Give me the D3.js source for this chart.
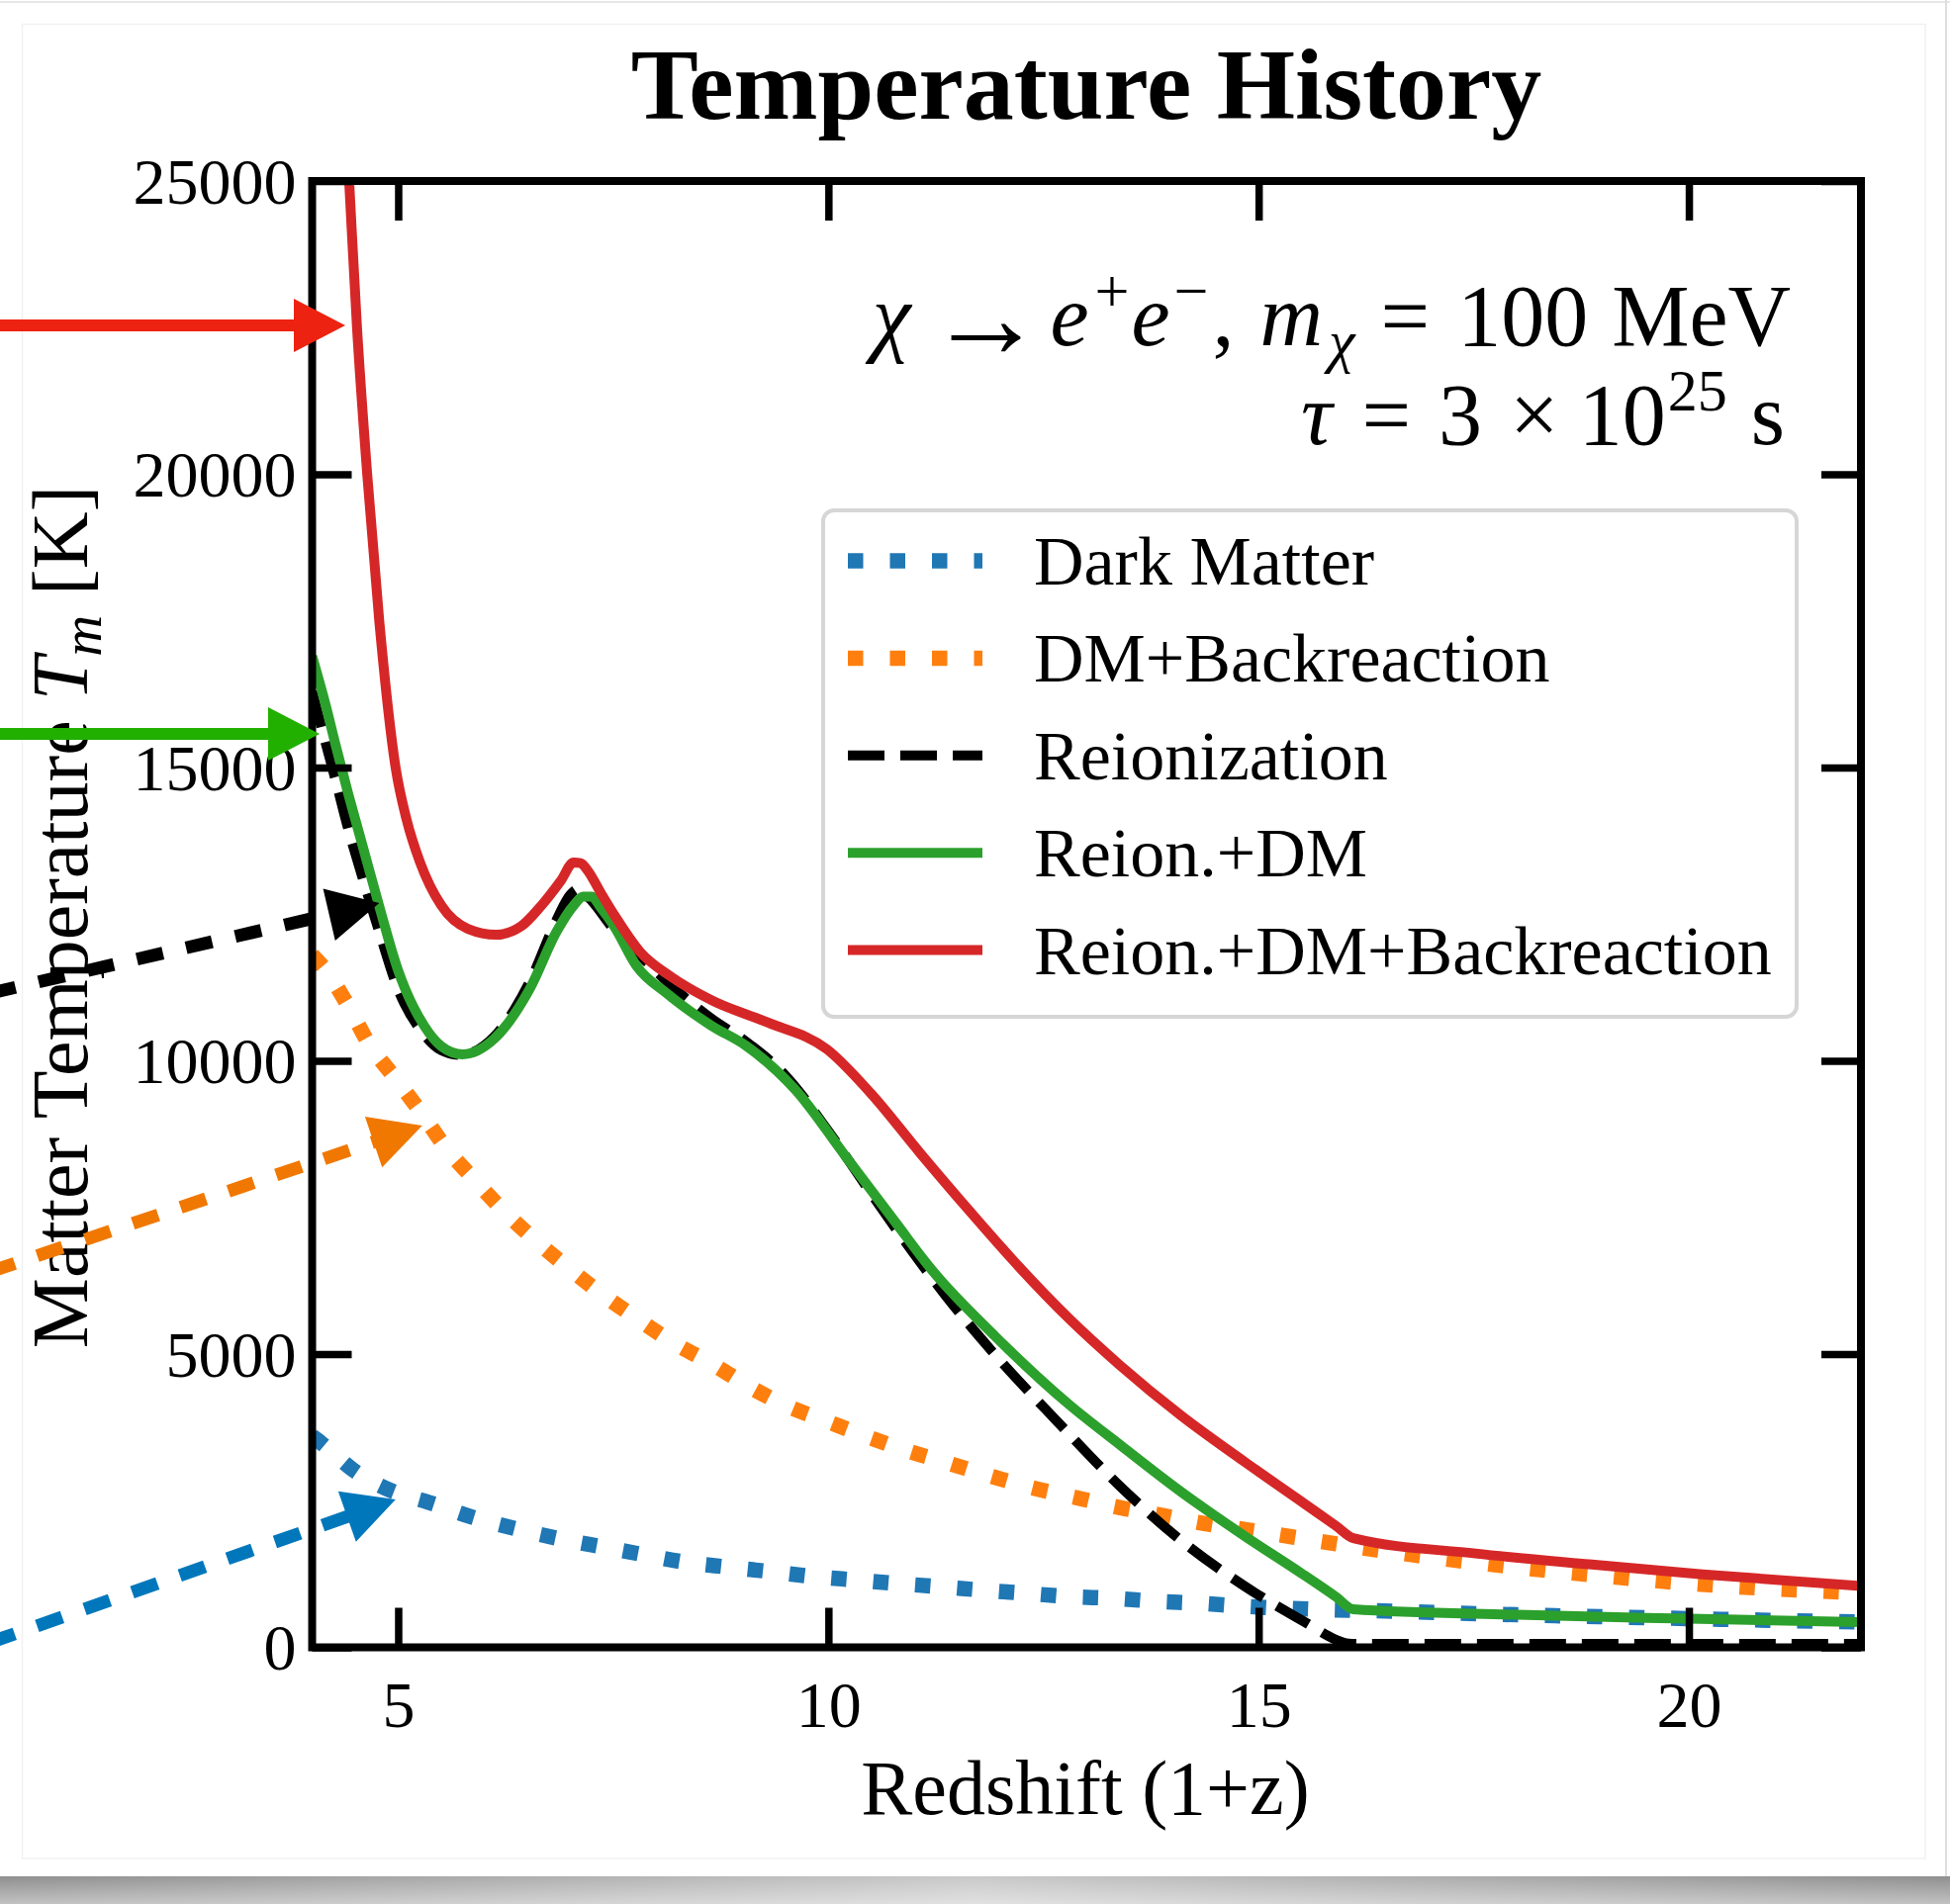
<!DOCTYPE html>
<html><head><meta charset="utf-8">
<script src="https://cdn.jsdelivr.net/npm/d3@7"></script>
<style>body{margin:0;background:#fff}svg{display:block}</style>
</head><body>
<svg id="c" width="1971" height="1925"></svg>
<script>
// ---------------- DATA ----------------
const xDomain = [4, 22];
const yDomain = [0, 25000];
const xTickValues = [5, 10, 15, 20];
const yTickValues = [0, 5000, 10000, 15000, 20000, 25000];

const seriesNames = ["Dark Matter", "DM+Backreaction", "Reionization", "Reion.+DM", "Reion.+DM+Backreaction"];

// Dark Matter (blue dotted)
const zDM = [4.0, 4.1, 4.49, 4.92, 5.36, 5.86, 6.37, 6.88, 7.38, 7.89, 8.32, 8.82, 9.33, 9.84, 10.34, 10.78, 11.28, 11.79, 12.3, 12.8, 13.31, 13.81, 14.32, 14.83, 15.33, 15.84, 16.3, 18.0, 20.0, 22.0];
const tDM = [3600, 3490, 3010, 2670, 2470, 2220, 2020, 1850, 1710, 1570, 1455, 1370, 1290, 1205, 1145, 1090, 1035, 975, 920, 865, 835, 785, 750, 700, 665, 640, 625, 555, 490, 430];

// DM + Backreaction (orange dotted)
const zBack = [4.0, 4.16, 4.42, 4.66, 4.97, 5.26, 5.55, 5.89, 6.23, 6.59, 6.99, 7.38, 7.79, 8.22, 8.64, 9.11, 9.48, 9.98, 10.49, 10.92, 11.43, 11.93, 12.37, 12.87, 13.38, 13.88, 14.39, 14.9, 15.4, 15.9, 16.1, 17.34, 18.84, 20.33, 22.0];
const tBack = [11800, 11540, 10935, 10290, 9695, 9130, 8525, 7965, 7435, 6945, 6455, 6010, 5590, 5175, 4840, 4420, 4140, 3855, 3570, 3350, 3125, 2900, 2720, 2555, 2385, 2250, 2105, 1995, 1880, 1765, 1720, 1475, 1240, 1055, 930];

// Reionization (black dashed)
const zReion = [4.0, 4.16, 4.27, 4.42, 4.58, 4.79, 4.99, 5.3, 5.5, 5.72, 6.12, 6.53, 6.84, 7.0, 7.08, 7.2, 7.5, 7.87, 8.2, 8.64, 9.04, 9.5, 10.0, 10.49, 10.9, 11.36, 11.93, 12.66, 13.38, 14.1, 14.83, 15.55, 15.9, 16.02, 16.15, 18.0, 22.0];
const tReion = [16300, 15400, 14800, 13950, 13150, 12150, 11250, 10450, 10180, 10100, 10420, 11350, 12400, 12830, 12920, 12800, 12250, 11710, 11250, 10720, 10330, 9750, 8800, 7750, 6900, 6000, 5000, 3850, 2760, 1820, 1050, 420, 130, 70, 60, 60, 60];

// Reion. + DM (green solid)
const zReionDM = [4.0, 4.16, 4.27, 4.42, 4.58, 4.79, 4.99, 5.3, 5.5, 5.75, 6.12, 6.53, 6.84, 7.04, 7.15, 7.25, 7.35, 7.51, 7.77, 8.13, 8.64, 9.04, 9.62, 10.2, 10.78, 11.21, 11.94, 12.8, 13.4, 14.1, 14.83, 15.5, 15.9, 16.1, 18.0, 20.0, 22.0];
const tReionDM = [16900, 16050, 15400, 14550, 13700, 12580, 11580, 10600, 10250, 10110, 10380, 11230, 12200, 12650, 12800, 12800, 12620, 12295, 11617, 11140, 10600, 10260, 9500, 8370, 7245, 6420, 5300, 4135, 3440, 2650, 1905, 1260, 860, 650, 555, 488, 430];

// Reion. + DM + Backreaction (red solid)
const zReionBack = [4.0, 4.15, 4.3, 4.43, 4.52, 4.64, 4.78, 4.97, 5.1, 5.25, 5.5, 5.81, 6.14, 6.43, 6.66, 6.89, 7.04, 7.12, 7.2, 7.35, 7.51, 7.81, 8.18, 8.64, 9.3, 9.98, 10.49, 11.07, 11.64, 12.22, 12.8, 13.38, 14.1, 14.83, 15.55, 15.9, 16.1, 17.52, 18.84, 20.16, 22.0];
const tReionBack = [36000, 32000, 28500, 25000, 22540, 20000, 17500, 15000, 14100, 13400, 12650, 12250, 12150, 12295, 12640, 13070, 13380, 13370, 13250, 12875, 12490, 11860, 11425, 11035, 10650, 10200, 9450, 8420, 7440, 6480, 5600, 4820, 3950, 3170, 2430, 2070, 1860, 1600, 1415, 1245, 1045];

// Arrow annotations (data coordinates)
const arrowColors = ["#ee2211", "#22b000", "#000000", "#f07800", "#0077bb"];
const arrowStartZ = [0.25, 0.25, 0.25, 0.25, 0.25];
const arrowStartT = [22540, 15573, 11150, 6400, 80];
const arrowTipZ = [4.385, 4.086, 4.78, 5.28, 4.97];
const arrowTipT = [22540, 15573, 12690, 8895, 2521];
const arrowDashed = [false, false, true, true, true];

// ---------------- LAYOUT ----------------
const FONT = "'Liberation Serif', 'Times New Roman', serif";
const plot = {left: 315.5, right: 1881, top: 183, bottom: 1665.5};
const x = d3.scaleLinear().domain(xDomain).range([plot.left, plot.right]);
const y = d3.scaleLinear().domain(yDomain).range([plot.bottom, plot.top]);

const svg = d3.select("#c");
const defs = svg.append("defs");
defs.append("clipPath").attr("id", "plotclip").append("rect")
  .attr("x", plot.left).attr("y", plot.top)
  .attr("width", plot.right - plot.left).attr("height", plot.bottom - plot.top);
const sg = defs.append("linearGradient").attr("id", "shadowH").attr("x1", 0).attr("x2", 1).attr("y1", 0).attr("y2", 0);
sg.append("stop").attr("offset", "0%").attr("stop-color", "#8f8f8f");
sg.append("stop").attr("offset", "50%").attr("stop-color", "#c9c9c9");
sg.append("stop").attr("offset", "100%").attr("stop-color", "#8f8f8f");
const sv = defs.append("linearGradient").attr("id", "shadowV").attr("x1", 0).attr("x2", 0).attr("y1", 0).attr("y2", 1);
sv.append("stop").attr("offset", "0%").attr("stop-color", "#fff").attr("stop-opacity", 0);
sv.append("stop").attr("offset", "100%").attr("stop-color", "#fff").attr("stop-opacity", 0.45);

// page / card frame
svg.append("rect").attr("x", 0).attr("y", 0).attr("width", 1971).attr("height", 1925).attr("fill", "#fff");
svg.append("line").attr("x1", 0).attr("x2", 1971).attr("y1", 2).attr("y2", 2).attr("stroke", "#e6e6e6").attr("stroke-width", 2);
svg.append("line").attr("x1", 1967).attr("x2", 1967).attr("y1", 0).attr("y2", 1897).attr("stroke", "#dedede").attr("stroke-width", 2);
svg.append("rect").attr("x", 22.5).attr("y", 24.5).attr("width", 1923.5).attr("height", 1854.5)
  .attr("fill", "none").attr("stroke", "#f1f1f1").attr("stroke-width", 1.5);
svg.append("rect").attr("x", 0).attr("y", 1897).attr("width", 1971).attr("height", 28).attr("fill", "url(#shadowH)");
svg.append("rect").attr("x", 0).attr("y", 1897).attr("width", 1971).attr("height", 28).attr("fill", "url(#shadowV)");

// ---------------- SERIES ----------------
const seriesZ = [zDM, zBack, zReion, zReionDM, zReionBack];
const seriesT = [tDM, tBack, tReion, tReionDM, tReionBack];
const seriesStyle = [
  {color: "#1f77b4", width: 15.5, dash: "15.5,27"},
  {color: "#ff7f0e", width: 15.5, dash: "15.5,27"},
  {color: "#000000", width: 10, dash: "37,16"},
  {color: "#2ca02c", width: 10, dash: null},
  {color: "#d62728", width: 10, dash: null}
];
const line = d3.line().x(d => x(d[0])).y(d => y(d[1])).curve(d3.curveMonotoneX);
const gLines = svg.append("g").attr("clip-path", "url(#plotclip)");
seriesNames.forEach((name, i) => {
  const pts = seriesZ[i].map((z, j) => [z, seriesT[i][j]]);
  gLines.append("path").attr("d", line(pts)).attr("fill", "none")
    .attr("stroke", seriesStyle[i].color).attr("stroke-width", seriesStyle[i].width)
    .attr("stroke-dasharray", seriesStyle[i].dash).attr("stroke-linecap", "butt")
    .attr("stroke-linejoin", "round");
});

// ---------------- AXES ----------------
function styleAxis(g) {
  g.select(".domain").remove();
  g.selectAll(".tick line").attr("stroke", "#000").attr("stroke-width", 7.5);
  g.selectAll(".tick text").attr("fill", "#000").attr("font-size", 66).attr("font-family", FONT);
}
svg.append("g").attr("transform", `translate(0,${plot.bottom})`)
  .call(d3.axisBottom(x).tickValues(xTickValues).tickSize(-40).tickPadding(34).tickFormat(d3.format("d")))
  .call(styleAxis);
svg.append("g").attr("transform", `translate(0,${plot.top})`)
  .call(d3.axisTop(x).tickValues(xTickValues).tickSize(-40).tickFormat(""))
  .call(styleAxis);
svg.append("g").attr("transform", `translate(${plot.left},0)`)
  .call(d3.axisLeft(y).tickValues(yTickValues).tickSize(-40).tickPadding(16).tickFormat(d3.format("d")))
  .call(styleAxis)
  .call(g => g.selectAll(".tick text").attr("dy", "0.34em"));
svg.append("g").attr("transform", `translate(${plot.right},0)`)
  .call(d3.axisRight(y).tickValues(yTickValues).tickSize(-40).tickFormat(""))
  .call(styleAxis);

svg.append("rect").attr("x", plot.left).attr("y", plot.top)
  .attr("width", plot.right - plot.left).attr("height", plot.bottom - plot.top)
  .attr("fill", "none").attr("stroke", "#000").attr("stroke-width", 8);

// ---------------- TEXTS ----------------
svg.append("text").attr("x", 1098).attr("y", 120).attr("text-anchor", "middle")
  .attr("font-family", FONT).attr("font-weight", "bold").attr("font-size", 102).text("Temperature History");

svg.append("text").attr("x", 1097).attr("y", 1834).attr("text-anchor", "middle")
  .attr("font-family", FONT).attr("font-size", 78).text("Redshift (1+z)");

const yl = svg.append("text").attr("transform", "translate(88,927) rotate(-90)")
  .attr("text-anchor", "middle").attr("font-family", FONT).attr("font-size", 80);
yl.append("tspan").text("Matter Temperature ");
yl.append("tspan").attr("font-style", "italic").text("T");
yl.append("tspan").attr("font-style", "italic").attr("font-size", 58).attr("dy", 14).text("m");
yl.append("tspan").attr("dy", -14).text(" [K]");

const a1 = svg.append("text").attr("x", 1810).attr("y", 349).attr("text-anchor", "end")
  .attr("font-family", FONT).attr("font-size", 88);
a1.append("tspan").attr("font-style", "italic").text("χ");
a1.append("tspan").attr("dx", 17).attr("dy", 12).attr("font-size", 118).text("→");
a1.append("tspan").attr("dx", 6).attr("dy", -12).attr("font-style", "italic").text("e");
a1.append("tspan").attr("dx", 6).attr("dy", -34).attr("font-size", 62).text("+");
a1.append("tspan").attr("dx", 2).attr("dy", 34).attr("font-style", "italic").text("e");
a1.append("tspan").attr("dx", 4).attr("dy", -34).attr("font-size", 62).text("−");
a1.append("tspan").attr("dx", 4).attr("dy", 34).text(",");
a1.append("tspan").attr("dx", 26).attr("font-style", "italic").text("m");
a1.append("tspan").attr("dx", 6).attr("dy", 16).attr("font-size", 60).attr("font-style", "italic").text("χ");
a1.append("tspan").attr("dx", 26).attr("dy", -16).text("=");
a1.append("tspan").attr("dx", 28).text("100");
a1.append("tspan").attr("dx", 24).text("MeV");

const a2 = svg.append("text").attr("x", 1804).attr("y", 449).attr("text-anchor", "end")
  .attr("font-family", FONT).attr("font-size", 88);
a2.append("tspan").attr("font-style", "italic").text("τ");
a2.append("tspan").attr("dx", 30).text("=");
a2.append("tspan").attr("dx", 28).text("3");
a2.append("tspan").attr("dx", 28).text("×");
a2.append("tspan").attr("dx", 20).text("10");
a2.append("tspan").attr("dx", 2).attr("dy", -34).attr("font-size", 60).text("25");
a2.append("tspan").attr("dx", 24).attr("dy", 34).text("s");

// ---------------- LEGEND ----------------
const lg = svg.append("g");
lg.append("rect").attr("x", 832).attr("y", 516).attr("width", 984).attr("height", 512)
  .attr("rx", 11).attr("fill", "#fff").attr("stroke", "#d6d6d6").attr("stroke-width", 4);
seriesNames.forEach((name, i) => {
  const cy = 567 + i * 98.4;
  lg.append("line").attr("x1", 857).attr("x2", 993).attr("y1", cy).attr("y2", cy)
    .attr("stroke", seriesStyle[i].color).attr("stroke-width", seriesStyle[i].width)
    .attr("stroke-dasharray", seriesStyle[i].dash);
  lg.append("text").attr("x", 1045).attr("y", cy + 24).attr("font-family", FONT)
    .attr("font-size", 70).text(name);
});

// ---------------- ARROWS ----------------
const HEAD_LEN = 52, HEAD_HALF = 27;
arrowColors.forEach((col, i) => {
  const sx = x(arrowStartZ[i]), sy = y(arrowStartT[i]);
  const tx = x(arrowTipZ[i]), ty = y(arrowTipT[i]);
  const len = Math.hypot(tx - sx, ty - sy);
  const ux = (tx - sx) / len, uy = (ty - sy) / len;
  const bx = tx - ux * HEAD_LEN, by = ty - uy * HEAD_LEN;
  svg.append("line").attr("x1", sx).attr("y1", sy).attr("x2", bx + ux * 2).attr("y2", by + uy * 2)
    .attr("stroke", col).attr("stroke-width", arrowDashed[i] ? 13 : 12)
    .attr("stroke-dasharray", arrowDashed[i] ? "27,24" : null);
  const px = -uy, py = ux;
  svg.append("polygon").attr("fill", col)
    .attr("points", [[tx, ty], [bx + px * HEAD_HALF, by + py * HEAD_HALF], [bx - px * HEAD_HALF, by - py * HEAD_HALF]].map(p => p.join(",")).join(" "));
});
</script>
</body></html>
